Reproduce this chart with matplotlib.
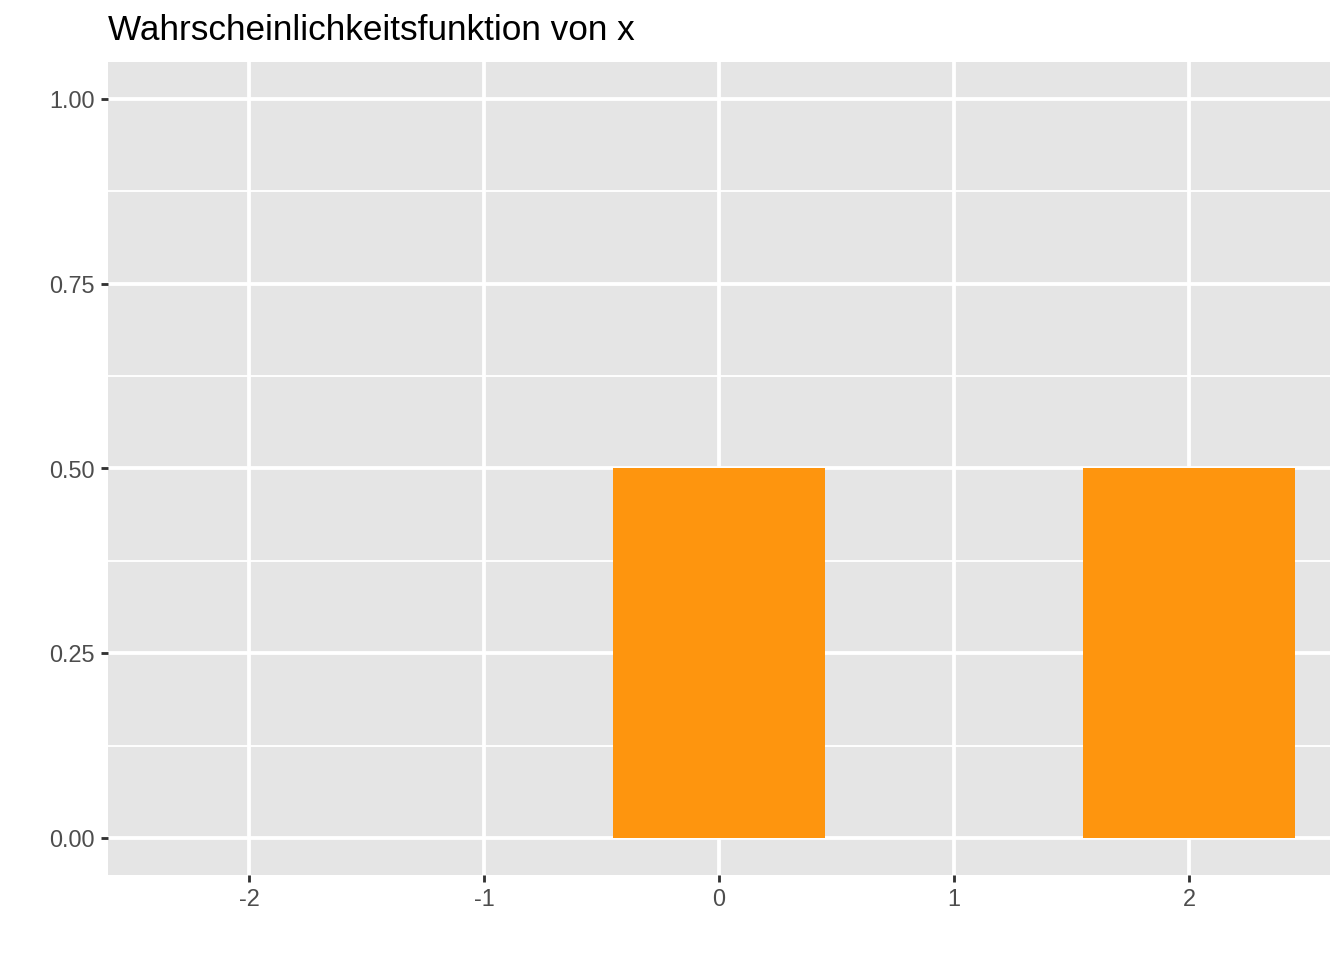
import matplotlib
matplotlib.use("Agg")
import matplotlib.pyplot as plt
from matplotlib.ticker import FixedLocator

plt.rcParams['font.family'] = ['Liberation Sans', 'DejaVu Sans']

# data
x_vals = [-2, -1, 0, 1, 2]
probs = [0.0, 0.0, 0.5, 0.0, 0.5]
x_ticks = [-2, -1, 0, 1, 2]
y_ticks = [0.0, 0.25, 0.5, 0.75, 1.0]
y_tick_labels = ["0.00", "0.25", "0.50", "0.75", "1.00"]
y_minor = [0.125, 0.375, 0.625, 0.875]
title = "Wahrscheinlichkeitsfunktion von x"

fig = plt.figure(figsize=(7, 5), dpi=192)
ax = fig.add_axes([108 / 1344, 85 / 960, (1330 - 108) / 1344, (875 - 62) / 960])
ax.set_facecolor('#E5E5E5')

ax.bar(x_vals, probs, width=0.9, color='#FE950E', zorder=3)

ax.set_xlim(-2.6, 2.6)
ax.set_ylim(-0.05, 1.05)
ax.set_xticks(x_ticks)
ax.set_xticklabels([str(v) for v in x_ticks])
ax.set_yticks(y_ticks)
ax.set_yticklabels(y_tick_labels)
ax.yaxis.set_minor_locator(FixedLocator(y_minor))

ax.grid(which='major', color='white', linewidth=1.42, zorder=1)
ax.grid(which='minor', axis='y', color='white', linewidth=0.71, zorder=1)
ax.set_axisbelow(True)

for s in ax.spines.values():
    s.set_visible(False)

ax.tick_params(which='major', length=2.75, width=1.07, color='#333333',
               labelsize=8.8, labelcolor='#4D4D4D', pad=2.2)
ax.tick_params(which='minor', length=0)

fig.text(108 / 1344, 1 - 40 / 960, title, fontsize=13.2, color='black',
         ha='left', va='baseline')

fig.savefig('out.png', dpi=192)
